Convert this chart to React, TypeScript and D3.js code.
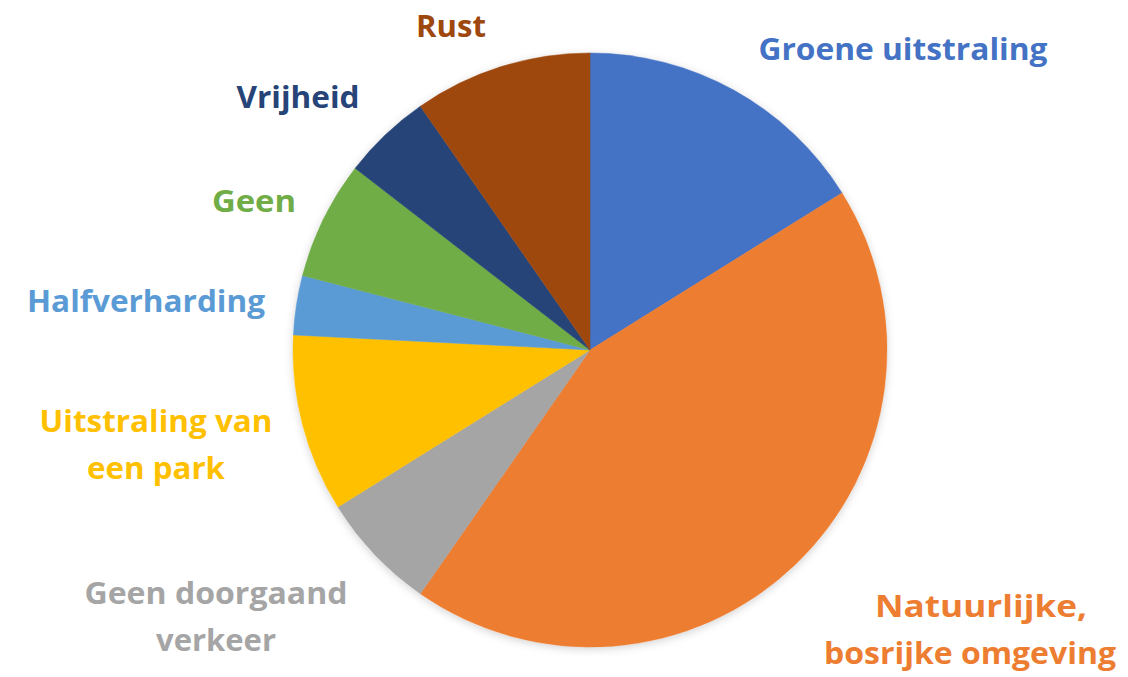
import React from "react";
import * as d3 from "d3";

const categories = [
  "Groene uitstraling",
  "Natuurlijke, bosrijke omgeving",
  "Geen doorgaand verkeer",
  "Uitstraling van een park",
  "Halfverharding",
  "Geen",
  "Vrijheid",
  "Rust",
];
const values = [10, 27, 4, 6, 2, 4, 3, 6];
const labelLines = [
  ["Groene uitstraling"],
  ["Natuurlijke,", "bosrijke omgeving"],
  ["Geen doorgaand", "verkeer"],
  ["Uitstraling van", "een park"],
  ["Halfverharding"],
  ["Geen"],
  ["Vrijheid"],
  ["Rust"],
];
const colors = ["#4472C4", "#ED7D31", "#A5A5A5", "#FFC000", "#5B9BD5", "#70AD47", "#264478", "#9E480E"];

// label layout: centre x per line, first baseline y, line widths
const labelLayout = [
  { x: [903], y: 60, w: [289] },
  { x: [981, 970], y: 617, w: [212, 292] },
  { x: [216, 216], y: 604, w: [263, 120] },
  { x: [156, 156], y: 432, w: [233, 138] },
  { x: [146], y: 312, w: [238] },
  { x: [254], y: 212, w: [84] },
  { x: [298], y: 108, w: [123] },
  { x: [451], y: 37, w: [70] },
];

const W = 1128;
const H = 677;
const CX = 590;
const CY = 350;
const R = 297;
const LINE = 47;

export default function App() {
  const data = categories.map((c, i) => ({ c, v: values[i], i }));
  const pie = d3.pie<any>().sort(null).value((d) => d.v).startAngle(0).endAngle(2 * Math.PI);
  const arcs = pie(data);
  const arc = d3.arc<any>().innerRadius(0).outerRadius(R);
  const color = d3.scaleOrdinal<string, string>().domain(categories).range(colors);

  return (
    <svg
      width={W}
      height={H}
      style={{ position: "absolute", left: 0, top: 0, background: "#fff" }}
      fontFamily="'Open Sans', sans-serif"
    >
      <defs>
        <filter id="sh" x="-10%" y="-10%" width="120%" height="120%">
          <feDropShadow dx="0" dy="2" stdDeviation="4" floodColor="#000" floodOpacity="0.18" />
        </filter>
      </defs>
      <g transform={`translate(${CX},${CY})`}>
        <circle r={R} fill="#fff" filter="url(#sh)" />
        {arcs.map((a) => (
          <path
            key={a.data.c}
            d={arc(a) || ""}
            fill={color(a.data.c)}
            stroke={color(a.data.c)}
            strokeWidth={0.5}
          />
        ))}
      </g>
      {labelLines.map((lines, i) => {
        const L = labelLayout[i];
        return (
          <text
            key={categories[i]}
            fill={colors[i]}
            fontSize={31}
            fontWeight="bold"
            textAnchor="middle"
          >
            {lines.map((ln, j) => (
              <tspan
                key={j}
                x={L.x[j]}
                y={L.y + j * LINE}
                textLength={L.w[j]}
                lengthAdjust="spacingAndGlyphs"
              >
                {ln}
              </tspan>
            ))}
          </text>
        );
      })}
    </svg>
  );
}
